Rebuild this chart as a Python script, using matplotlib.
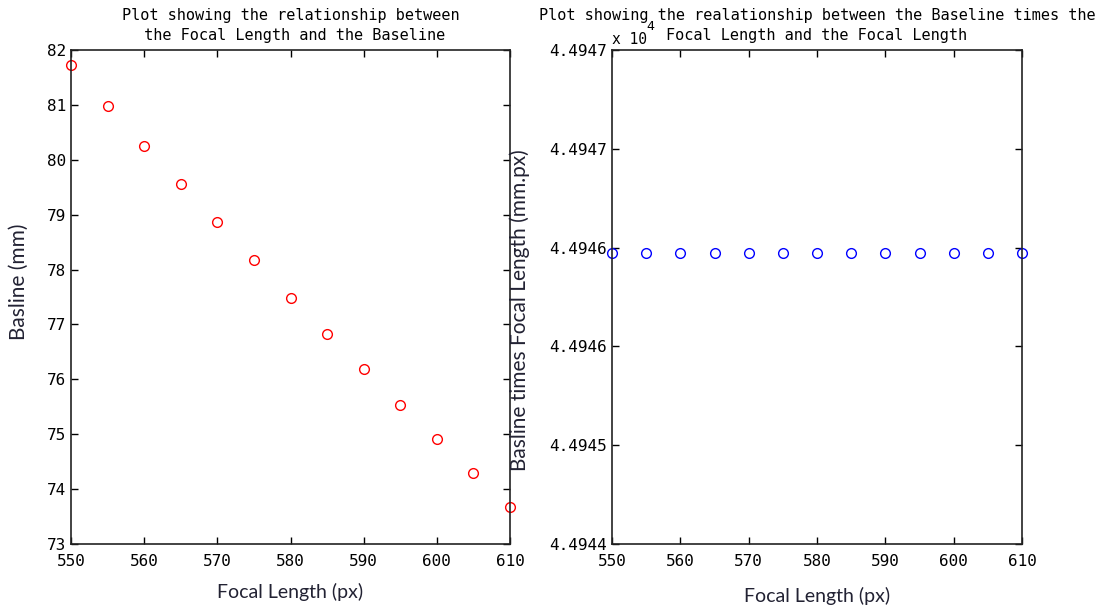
#Plots baseline against focal length, and baseline*focal length against focal length
import matplotlib.pyplot as plt
import numpy as np

#Focal lengths used (px)
focal_length = [550, 555, 560, 565, 570, 575, 580, 585, 590, 595, 600, 605, 610]

baseline = [81.72, 80.98, 80.26, 79.55, 78.86, 78.17, 77.49, 76.83, 76.18, 75.54, 74.91, 74.29, 73.68]

#Baseline times focal length (mm.px), shown in units of 10^4
baseline_times_f = [4.494577, 4.494577, 4.494577, 4.494577, 4.494577, 4.494577, 4.494577,
                    4.494577, 4.494577, 4.494577, 4.494577, 4.494577, 4.494577]

#Tick labels of the right plot as shown
right_ticks = [4.4944, 4.49446, 4.49452, 4.49458, 4.49464, 4.4947]
right_tick_labels = ["4.4944", "4.4945", "4.4946", "4.4946", "4.4947", "4.4947"]

mono = "DejaVu Sans Mono"
label_font = "Lato"
label_color = "#222233"

fig = plt.figure(figsize=(11.08, 6.05), dpi=100)
ax1 = fig.add_axes([71/1108, 1 - 544/605, (510 - 71)/1108, (544 - 50)/605])
ax2 = fig.add_axes([612/1108, 1 - 544/605, (1022 - 612)/1108, (544 - 50)/605])

#Left plot
ax1.plot(focal_length, baseline, "o", mfc="none", mec="red", ms=7, mew=1, clip_on=False)
ax1.set_xlim(550, 610)
ax1.set_ylim(73, 82)
ax1.set_xticks(np.arange(550, 611, 10))
ax1.set_yticks(np.arange(73, 83, 1))
ax1.set_xlabel("Focal Length (px)", fontfamily=label_font, fontsize=14, color=label_color, labelpad=10)
ax1.set_ylabel("Basline (mm)", fontfamily=label_font, fontsize=15, color=label_color)
ax1.yaxis.set_label_coords(-0.0957, 0.53)
ax1.set_title("Plot showing the relationship between\n the Focal Length and the Baseline",
              fontfamily=mono, fontsize=11, pad=7, linespacing=1.4)

#Right plot
ax2.plot(focal_length, baseline_times_f, "o", mfc="none", mec="blue", ms=7, mew=1, clip_on=False)
ax2.set_xlim(550, 610)
ax2.set_ylim(4.4944, 4.4947)
ax2.set_xticks(np.arange(550, 611, 10))
ax2.set_yticks(right_ticks)
ax2.set_yticklabels(right_tick_labels)
ax2.set_xlabel("Focal Length (px)", fontfamily=label_font, fontsize=14, color=label_color, labelpad=13)
ax2.set_ylabel("Basline times Focal Length (mm.px)", fontfamily=label_font, fontsize=15, color=label_color)
ax2.yaxis.set_label_coords(-0.2, 0.474)
ax2.set_title("Plot showing the realationship between the Baseline times the\nFocal Length and the Focal Length",
              fontfamily=mono, fontsize=11, pad=7, linespacing=1.4)
ax2.text(0.0, 1.006, "x 10", transform=ax2.transAxes, fontfamily=mono, fontsize=10.5, ha="left", va="bottom")
ax2.text(0.085, 1.034, "4", transform=ax2.transAxes, fontfamily=mono, fontsize=9.5, ha="left", va="bottom")

#MATLAB style box with ticks on every side
for ax in (ax1, ax2):
    ax.tick_params(direction="in", top=True, right=True, length=5, width=1, labelsize=11.5)
    for lab in ax.get_xticklabels() + ax.get_yticklabels():
        lab.set_fontfamily(mono)
    for s in ax.spines.values():
        s.set_linewidth(1.2)
        s.set_color("#222222")
    ax.tick_params(axis="x", pad=7)

plt.savefig("out.png", dpi=100)
